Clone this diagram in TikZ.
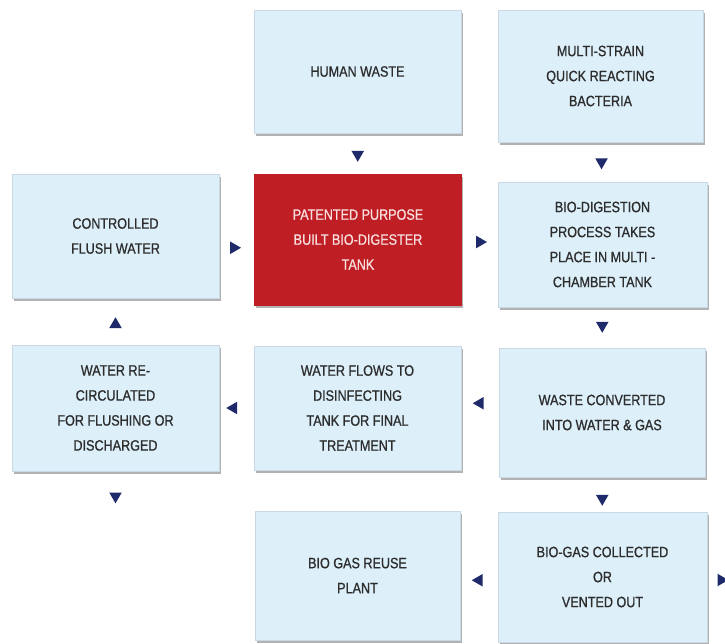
\documentclass[tikz,border=0pt]{standalone}
\usepackage{fontspec}
\setmainfont[FakeStretch=0.84, FakeBold=0.9]{Liberation Sans}
\usetikzlibrary{shapes.geometric,shadows,positioning}
\definecolor{boxblue}{RGB}{221,240,250}
\definecolor{boxedge}{RGB}{200,216,228}
\definecolor{tankred}{RGB}{190,30,36}
\definecolor{tanktext}{RGB}{248,222,222}
\definecolor{navy}{RGB}{30,42,106}
\definecolor{inkgray}{RGB}{45,45,45}

\tikzset{
	stage/.style={rectangle, fill=boxblue, draw=boxedge, line width=.6pt, text=inkgray, align=center,
		minimum width=207pt, minimum height=126pt, inner sep=0pt, font=\fontsize{15}{25}\selectfont,
		drop shadow={shadow xshift=1.5pt, shadow yshift=-2.5pt, fill=black, opacity=.3}},
	tank/.style={stage, fill=tankred, draw=tankred, text=tanktext},
	pointer/.style={regular polygon, regular polygon sides=3, fill=navy, draw=none, inner sep=0pt, minimum size=14.5pt},
	pointdown/.style={pointer, shape border rotate=180},
	pointup/.style={pointer, shape border rotate=0},
	pointleft/.style={pointer, shape border rotate=90},
	pointright/.style={pointer, shape border rotate=270}
}

\begin{document}
\begin{tikzpicture}[x=1pt, y=-1pt]
	\useasboundingbox (0,0) rectangle (725,643);
	\node[stage, minimum height=123pt] (hw) at (357.5,71.5) {HUMAN WASTE};
	\node[stage, minimum width=205pt, minimum height=132pt] (ms) at (600.5,76) {MULTI-STRAIN\\QUICK REACTING\\BACTERIA};
	\node[stage, minimum height=124pt] (cf) at (115.5,236) {CONTROLLED\\FLUSH WATER};
	\node[tank, minimum height=131pt] (tank) at (358,239.5) {PATENTED PURPOSE\\BUILT BIO-DIGESTER\\TANK};
	\node[stage, minimum width=209pt, minimum height=125pt] (bd) at (602.5,244.5) {BIO-DIGESTION\\PROCESS TAKES\\PLACE IN MULTI -\\CHAMBER TANK};
	\node[stage] (wr) at (115.5,408) {WATER RE-\\CIRCULATED\\FOR FLUSHING OR\\DISCHARGED};
	\node[stage, minimum height=124pt] (wf) at (357.5,408) {WATER FLOWS TO\\DISINFECTING\\TANK FOR FINAL\\TREATMENT};
	\node[stage, minimum width=206pt, minimum height=129pt] (wc) at (602,412.5) {WASTE CONVERTED\\INTO WATER \& GAS};
	\node[stage, minimum width=205pt, minimum height=129pt] (bgr) at (357.5,575.5) {BIO GAS REUSE\\PLANT};
	\node[stage, minimum width=209pt, minimum height=130pt] (bc) at (602.5,577) {BIO-GAS COLLECTED\\OR\\VENTED OUT};

	\path (hw) -- node[pointdown, yshift=-1pt] {} (tank);
	\path (ms) -- node[pointdown] {} (bd);
	\path (cf.east) -- node[pointright, xshift=-3pt, yshift=-10pt] {} (tank.west);
	\path (tank.east) -- node[pointright] {} (bd.west);
	\path (bd) -- node[pointdown, yshift=2pt] {} (wc);
	\path (wc.west) -- node[pointleft, yshift=7pt] {} (wf.west -| wf.east);
	\path (wf.west) -- node[pointleft, xshift=-3pt] {} (wr.east);
	\path (wr) -- node[pointup, yshift=-3pt] {} (cf);
	\path (wc) -- node[pointdown, yshift=-4pt] {} (bc);
	\path (bc.west) -- node[pointleft, yshift=-4pt] {} (bgr.east);
	\node[pointdown] (wrout) [below=21pt of wr] {};
	\node[pointright] (bcout) [right=10pt of bc, yshift=-3pt] {};
\end{tikzpicture}
\end{document}
